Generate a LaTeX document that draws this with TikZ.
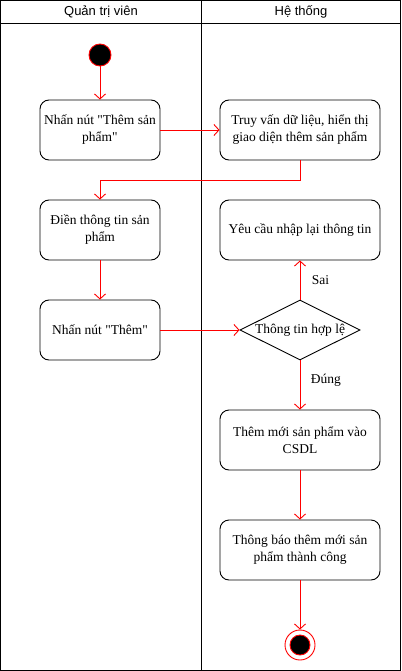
\documentclass[tikz,border=0pt]{standalone}
\usepackage{fontspec}
\setmainfont{Liberation Serif}
\newfontfamily\headfont{Liberation Sans}
\usetikzlibrary{positioning,shapes.geometric,arrows.meta}

\begin{document}
\begin{tikzpicture}[x=1pt, y=1pt, line width=0.9pt,
    font=\fontsize{13.5}{17}\selectfont,
    act/.style={draw, rounded corners=9pt, minimum width=120pt, minimum height=60pt, align=center, inner sep=1pt},
    wideact/.style={act, minimum width=160pt},
    flow/.style={draw=red, -{Straight Barb[length=5pt,width=11pt]}},
    lane/.style={font=\headfont\fontsize{13}{15}\selectfont}]
    \useasboundingbox (0,0) rectangle (401,-671);

    % swimlanes
    \draw (0.5,-0.5) rectangle (400.5,-670.5);
    \draw (0.5,-23.5) -- (400.5,-23.5);
    \draw (201,-0.5) -- (201,-670.5);
    \node[lane] (lane1) at (101,-12) {Quản trị viên};
    \node[lane] (lane2) at (301,-12) {Hệ thống};

    \node[circle, fill=black, draw=red, minimum size=22pt, inner sep=0] (start) at (100,-55) {};
    \node[act, below of=start, node distance=75pt] (press1) {Nhấn nút \textquotedbl Thêm sản\\phẩm\textquotedbl};
    \node[wideact, right of=press1, node distance=200pt] (query) {Truy vấn dữ liệu, hiển thị\\giao diện thêm sản phẩm};
    \node[act, below of=press1, node distance=100pt] (fill) {Điền thông tin sản\\phẩm};
    \node[wideact, right of=fill, node distance=200pt] (retry) {Yêu cầu nhập lại thông tin};
    \node[act, below of=fill, node distance=100pt] (press2) {Nhấn nút \textquotedbl Thêm\textquotedbl};
    \node[diamond, draw, aspect=2, minimum width=120pt, minimum height=60pt, inner sep=0pt, right of=press2, node distance=200pt] (check) {Thông tin hợp lệ};
    \node[wideact, below of=check, node distance=110pt] (insert) {Thêm mới sản phẩm vào\\CSDL};
    \node[wideact, below of=insert, node distance=110pt] (notify) {Thông báo thêm mới sản\\phẩm thành công};
    \node[circle, draw=red, fill=white, minimum size=30pt, inner sep=0, below of=notify, node distance=95pt] (stop) {};
    \node[circle, fill=black, draw=red, minimum size=20pt, inner sep=0] (stopdot) at (stop) {};

    \draw[flow] (start) -- (press1);
    \draw[flow] (press1) -- (query);
    \draw[flow] (query.south) -- ++(0,-20) -| (fill.north);
    \draw[flow] (fill) -- (press2);
    \draw[flow] (press2) -- (check);
    \draw[flow] (check.north) -- (retry.south) node[midway, right=8pt] {Sai};
    \draw[flow] (check.south) -- (insert.north) node[pos=.4, right=7pt] {Đúng};
    \draw[flow] (insert) -- (notify);
    \draw[flow] (notify) -- (stop);

\end{tikzpicture}
\end{document}
